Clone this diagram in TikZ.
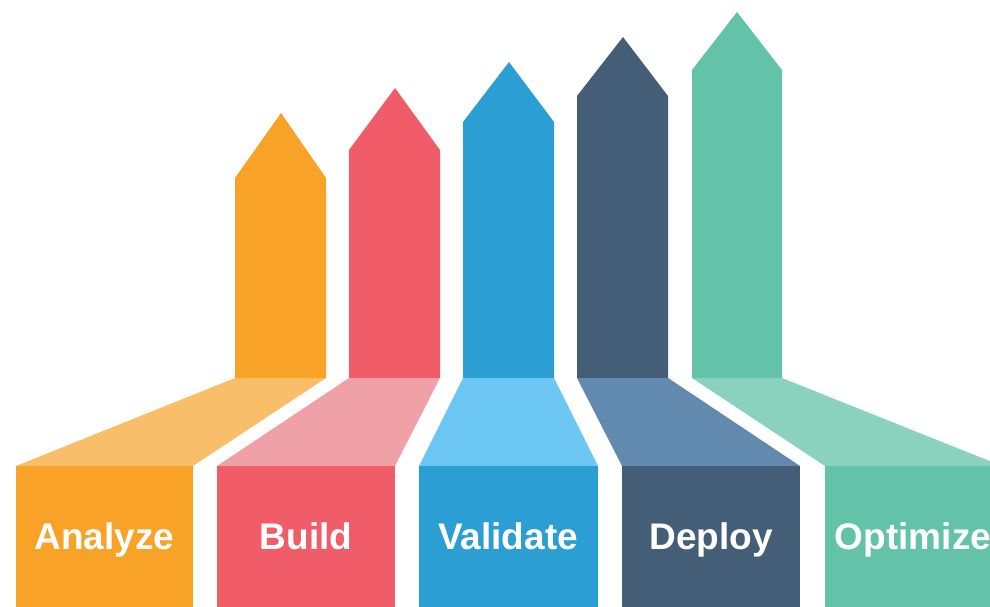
\documentclass[tikz,border=0pt]{standalone}
\usepackage{fontspec}
\newfontfamily\stagefont{Liberation Sans}
\usepackage{tikz}

\definecolor{anaDark}{HTML}{F8A327}
\definecolor{anaLight}{HTML}{F9BE6A}
\definecolor{bldDark}{HTML}{F05D68}
\definecolor{bldLight}{HTML}{F0A0A7}
\definecolor{valDark}{HTML}{2B9FD4}
\definecolor{valLight}{HTML}{6CC8F2}
\definecolor{depDark}{HTML}{445E78}
\definecolor{depLight}{HTML}{6289AE}
\definecolor{optDark}{HTML}{62C3A8}
\definecolor{optLight}{HTML}{8AD2BE}

\tikzset{
  stagelabel/.style={text=white, inner sep=0pt, anchor=base,
    font=\stagefont\bfseries\fontsize{37}{40}\selectfont}
}

\begin{document}
\begin{tikzpicture}[x=1pt,y=-1pt]
\useasboundingbox (0,0) rectangle (990,607);
\clip (0,0) rectangle (990,607);
% Analyze
\fill [anaDark] (235,378) -- (235,178) -- (281,113) -- (326,178) -- (326,378) -- cycle;
\fill [anaLight] (16,466) -- (235,378) -- (326,378) -- (193,466) -- cycle;
\fill [anaDark] (16,466) rectangle (193,620);
\node [stagelabel] (analyze) at (104.5,549) {Analyze};
% Build
\fill [bldDark] (349,378) -- (349,150) -- (395,88) -- (440,150) -- (440,378) -- cycle;
\fill [bldLight] (217,466) -- (349,378) -- (440,378) -- (395,466) -- cycle;
\fill [bldDark] (217,466) rectangle (395,620);
\node [stagelabel] (build) at (306,549) {Build};
% Validate
\fill [valDark] (463,378) -- (463,122) -- (509,62) -- (554,122) -- (554,378) -- cycle;
\fill [valLight] (419,466) -- (463,378) -- (554,378) -- (598,466) -- cycle;
\fill [valDark] (419,466) rectangle (598,620);
\node [stagelabel] (validate) at (508,549) {Validate};
% Deploy
\fill [depDark] (577,378) -- (577,96) -- (623,37) -- (668,96) -- (668,378) -- cycle;
\fill [depLight] (622,466) -- (577,378) -- (668,378) -- (800,466) -- cycle;
\fill [depDark] (622,466) rectangle (800,620);
\node [stagelabel] (deploy) at (711,549) {Deploy};
% Optimize
\fill [optDark] (692,378) -- (692,70) -- (737,12) -- (782,70) -- (782,378) -- cycle;
\fill [optLight] (825,466) -- (692,378) -- (782,378) -- (1002,466) -- cycle;
\fill [optDark] (825,466) rectangle (1002,620);
\node [stagelabel] (optimize) at (913,549) {Optimize};
\end{tikzpicture}
\end{document}
